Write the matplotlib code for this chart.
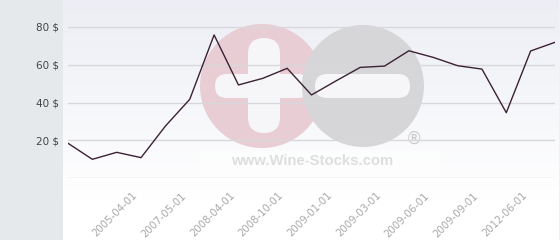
import numpy as np
import matplotlib
matplotlib.use('Agg')
import matplotlib.pyplot as plt
import matplotlib.patches as mpatches
import matplotlib.transforms as mtrans

# price series (one value per auction date, $)
prices = [18.4, 9.9, 13.6, 10.8, 27.5, 41.7, 75.8, 49.3, 52.8, 58.1, 44.0,
          51.4, 58.6, 59.3, 67.4, 63.9, 59.5, 57.7, 34.6, 67.3, 71.9]
# labelled dates and their position in the series
tick_idx = [3, 5, 7, 9, 11, 13, 15, 17, 19]
tick_labels = ['2005-04-01', '2007-05-01', '2008-04-01', '2008-10-01', '2009-01-01',
               '2009-03-01', '2009-06-01', '2009-09-01', '2012-06-01']
y_ticks = [0, 20, 40, 60, 80]
y_labels = ['', '20 $', '40 $', '60 $', '80 $']

W, H = 560, 240
fig = plt.figure(figsize=(W/100, H/100), dpi=100)
fig.patch.set_facecolor('white')

# background + watermark, in pixel coords
bg = fig.add_axes([0, 0, 1, 1], zorder=0)
bg.set_xlim(0, W)
bg.set_ylim(H, 0)
bg.axis('off')
bg.add_patch(mpatches.Rectangle((0, 0), 63, H, color='#e6e9ec', lw=0))
grad = np.linspace(0, 1, 200).reshape(-1, 1)
c_top = np.array([0.925, 0.933, 0.957])
c_bot = np.array([1.0, 1.0, 1.0])
img = c_top + (c_bot - c_top) * grad[..., None]
img = np.concatenate([img, np.ones((40, 1, 3))], axis=0)
bg.imshow(img, extent=(63, 559, H, 0), aspect='auto', interpolation='bilinear')
bg.plot([559.5, 559.5], [0, H], color='#b8b8b8', lw=1)

# watermark
bg.add_patch(mpatches.Rectangle((200, 150), 240, 25, color='white', alpha=0.5, lw=0))
bg.add_patch(mpatches.Circle((262, 86), 62, color='#e8cdd4', lw=0))
bg.add_patch(mpatches.FancyBboxPatch((248, 38), 32, 95, boxstyle='round,pad=0,rounding_size=16',
                                     color='#f6f6f9', lw=0))
bg.add_patch(mpatches.FancyBboxPatch((215, 74), 95, 24, boxstyle='round,pad=0,rounding_size=12',
                                     color='#f6f6f9', lw=0))
bg.add_patch(mpatches.Circle((363, 86), 61, color='#d6d6d8', lw=0))
bg.add_patch(mpatches.FancyBboxPatch((315, 74), 95, 24, boxstyle='round,pad=0,rounding_size=12',
                                     color='#f6f6f9', lw=0))
bg.text(414, 139, '\u00ae', fontsize=12, color='#cccccc', ha='center', va='center')
bg.text(312, 161, 'www.Wine-Stocks.com', fontsize=10.7, fontweight='bold',
        family=['Liberation Sans', 'DejaVu Sans'], color='#dedede', ha='center', va='center')

# main chart
ax = fig.add_axes([68/W, 62/H, 487/W, 173/H], zorder=1)
ax.patch.set_alpha(0)
x = np.arange(len(prices))
ax.plot(x, prices, color='#3b2233', lw=1, zorder=3)
ax.set_xlim(0, len(prices) - 1)
ax.set_ylim(0, 173/1.8875)
ax.set_yticks(y_ticks)
ax.set_yticklabels(y_labels, fontsize=7.5, color='#444444')
ax.yaxis.grid(True, color='#d8d8dc', lw=1)
ax.set_axisbelow(True)
ax.tick_params(axis='y', length=0, pad=6.5)
ax.set_xticks(tick_idx)
ax.set_xticklabels(tick_labels, rotation=45, ha='right', va='top', fontsize=7.3, color='#a8a8a8')
ax.tick_params(axis='x', length=0, pad=9)
off = mtrans.ScaledTranslation(-1.5/72, 0, fig.dpi_scale_trans)
for lab in ax.get_xticklabels():
    lab.set_transform(lab.get_transform() + off)
for s in ax.spines.values():
    s.set_visible(False)

fig.savefig('out.png', dpi=100)
